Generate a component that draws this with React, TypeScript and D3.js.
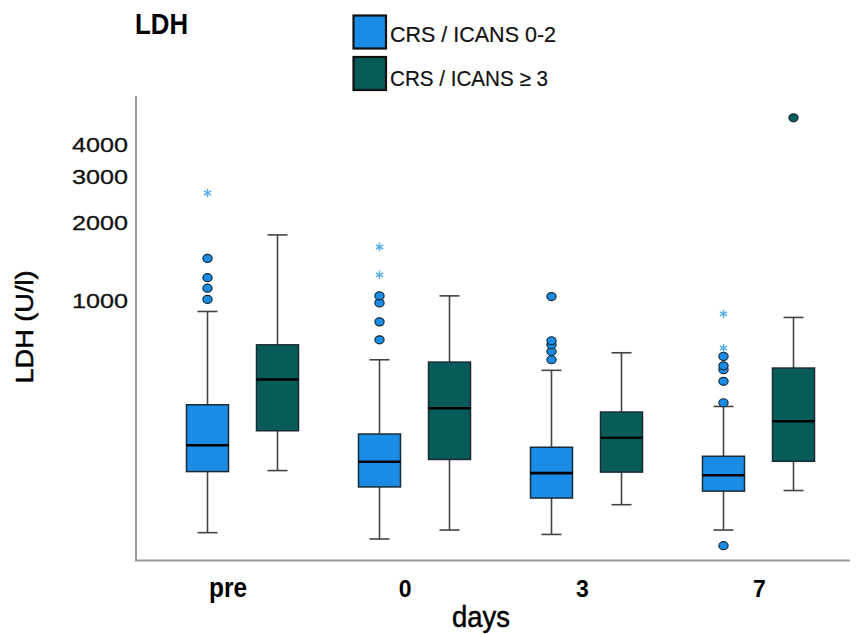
import React from "react";
import * as d3 from "d3";

const categories = ["pre", "0", "3", "7"];
const seriesNames = ["CRS / ICANS 0-2", "CRS / ICANS ≥ 3"];
const seriesColors = ["#1a8ce6", "#075b58"];

// CRS / ICANS 0-2
const blueWhiskerLow = [128, 121, 126, 131];
const blueQ1 = [220, 192, 174, 185];
const blueMedian = [278, 240, 217, 213];
const blueQ3 = [398, 307, 273, 252];
const blueWhiskerHigh = [910, 593, 540, 392];
const blueOutliers = [
  [1013, 1119, 1228, 1457],
  [708, 830, 982, 1045],
  [593, 638, 677, 702, 1039],
  [114, 405, 490, 543, 562, 611],
];
const blueExtremes = [[2602], [1259, 1613], [], [658, 891]];

// CRS / ICANS >= 3
const greenWhiskerLow = [222, 131, 164, 186];
const greenQ1 = [316, 245, 219, 241];
const greenMedian = [498, 386, 297, 344];
const greenQ3 = [677, 581, 373, 551];
const greenWhiskerHigh = [1794, 1045, 631, 863];
const greenOutliers = [[], [], [], [5070]];
const greenExtremes = [[], [], [], []];

const yTicks = [1000, 2000, 3000, 4000];

const W = 859;
const H = 634;

export default function App() {
  const y = d3.scaleLog().domain([100, 6150]).range([560.5, 96]);
  const x0 = d3.scaleBand().domain(categories).range([156.5, 844.5]);
  const x1 = d3.scaleBand().domain(seriesNames).range([16, 156]);
  const xLabel = d3.scalePoint().domain(categories).range([228, 759.5]);
  const boxW = x1.bandwidth() * 0.6;
  const capW = 20;

  const series = [
    {
      name: seriesNames[0],
      color: seriesColors[0],
      lo: blueWhiskerLow,
      q1: blueQ1,
      med: blueMedian,
      q3: blueQ3,
      hi: blueWhiskerHigh,
      out: blueOutliers,
      ext: blueExtremes,
    },
    {
      name: seriesNames[1],
      color: seriesColors[1],
      lo: greenWhiskerLow,
      q1: greenQ1,
      med: greenMedian,
      q3: greenQ3,
      hi: greenWhiskerHigh,
      out: greenOutliers,
      ext: greenExtremes,
    },
  ];

  const star = d3.symbol().type(d3.symbolAsterisk).size(48)() as string;
  const font = "'Liberation Sans', Arial, sans-serif";

  return (
    <svg
      width={W}
      height={H}
      style={{ position: "absolute", left: 0, top: 0, background: "#fff" }}
      fontFamily={font}
    >
      {/* title */}
      <text x={135} y={34} fontSize={30} fontWeight="bold" textLength={53} lengthAdjust="spacingAndGlyphs">
        LDH
      </text>

      {/* legend */}
      {series.map((s, i) => (
        <g key={s.name}>
          <rect
            x={353.5}
            y={15.5 + i * 41.5}
            width={32.5}
            height={33}
            fill={s.color}
            stroke="#111"
            strokeWidth={2.2}
          />
          <text
            x={390}
            y={41.7 + i * 44.3}
            fontSize={22}
            fill="#111"
            stroke="#111"
            strokeWidth={0.2}
            textLength={i === 0 ? 166 : 158}
            lengthAdjust="spacingAndGlyphs"
          >
            {s.name}
          </text>
        </g>
      ))}

      {/* axes */}
      <line x1={136} x2={136} y1={96} y2={561} stroke="#999" strokeWidth={2} />
      <line x1={135} x2={850} y1={560.5} y2={560.5} stroke="#999" strokeWidth={2} />

      {/* y tick labels */}
      {yTicks.map((t) => (
        <text
          key={t}
          x={128}
          y={y(t) + 7.5}
          fontSize={21}
          textAnchor="end"
          fill="#111"
          stroke="#111"
          strokeWidth={0.3}
          textLength={56}
          lengthAdjust="spacingAndGlyphs"
        >
          {t}
        </text>
      ))}

      {/* y axis title */}
      <text
        transform="translate(33,327) rotate(-90)"
        fontSize={23}
        textAnchor="middle"
        fill="#000"
        stroke="#000"
        strokeWidth={0.5}
        textLength={113}
        lengthAdjust="spacingAndGlyphs"
      >
        LDH (U/l)
      </text>

      {/* x tick labels */}
      {categories.map((c) => (
        <text
          key={c}
          x={xLabel(c)}
          y={597}
          fontSize={c === "pre" ? 27 : 23}
          fontWeight="bold"
          textAnchor="middle"
          fill="#000"
          {...(c === "pre" ? { textLength: 38, lengthAdjust: "spacingAndGlyphs" } : {})}
        >
          {c}
        </text>
      ))}
      <text
        x={481}
        y={626.5}
        fontSize={29}
        textAnchor="middle"
        fill="#000"
        stroke="#000"
        strokeWidth={0.5}
        textLength={58}
        lengthAdjust="spacingAndGlyphs"
      >
        days
      </text>

      {/* boxes */}
      {categories.map((c, ci) =>
        series.map((s) => {
          const cx = (x0(c) as number) + (x1(s.name) as number) + x1.bandwidth() / 2;
          return (
            <g key={c + s.name}>
              <line x1={cx} x2={cx} y1={y(s.hi[ci])} y2={y(s.q3[ci])} stroke="#444" strokeWidth={1.6} />
              <line x1={cx} x2={cx} y1={y(s.q1[ci])} y2={y(s.lo[ci])} stroke="#444" strokeWidth={1.6} />
              <line
                x1={cx - capW / 2}
                x2={cx + capW / 2}
                y1={y(s.hi[ci])}
                y2={y(s.hi[ci])}
                stroke="#444"
                strokeWidth={1.6}
              />
              <line
                x1={cx - capW / 2}
                x2={cx + capW / 2}
                y1={y(s.lo[ci])}
                y2={y(s.lo[ci])}
                stroke="#444"
                strokeWidth={1.6}
              />
              <rect
                x={cx - boxW / 2}
                y={y(s.q3[ci])}
                width={boxW}
                height={y(s.q1[ci]) - y(s.q3[ci])}
                fill={s.color}
                stroke="#1b2b35"
                strokeWidth={1.5}
              />
              <line
                x1={cx - boxW / 2}
                x2={cx + boxW / 2}
                y1={y(s.med[ci])}
                y2={y(s.med[ci])}
                stroke="#000"
                strokeWidth={2.6}
              />
              {s.out[ci].map((v, k) => (
                <ellipse
                  key={"o" + k}
                  cx={cx}
                  cy={y(v)}
                  rx={4.6}
                  ry={4}
                  fill={s.color}
                  stroke="#102a3c"
                  strokeWidth={1.2}
                />
              ))}
              {s.ext[ci].map((v, k) => (
                <path
                  key={"e" + k}
                  d={star}
                  transform={`translate(${cx},${y(v)})`}
                  fill="none"
                  stroke="#5aaee8"
                  strokeWidth={1.5}
                />
              ))}
            </g>
          );
        })
      )}
    </svg>
  );
}
